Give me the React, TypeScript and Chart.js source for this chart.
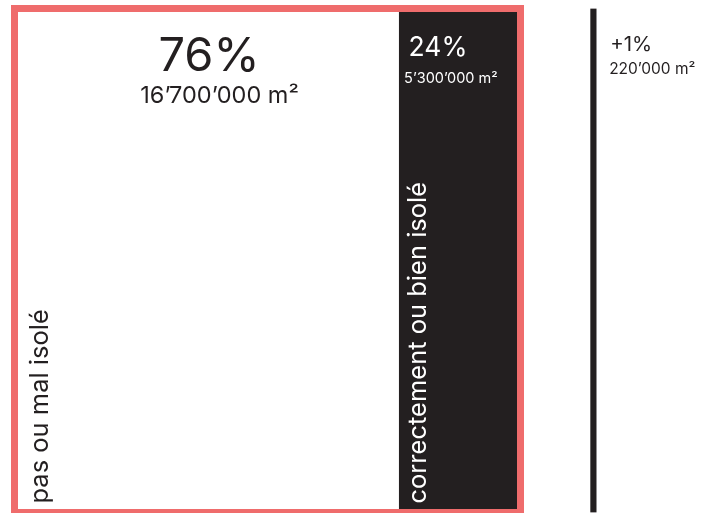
import React, { useEffect, useRef } from "react";
import { Chart, registerables } from "chart.js";

Chart.register(...registerables);

// ---- data (millions of m²) ----
const categories = ["surface"];
const seriesNames = ["pas ou mal isolé", "correctement ou bien isolé", "écart", "ajout"];
const poorlyInsulated = [16.7];
const wellInsulated = [5.3];
const spacer = [3.05];
const addition = [0.24];
const percentLabels = ["76%", "24%", "+1%"];
const areaLabels = ["16’700’000 m²", "5’300’000 m²", "220’000 m²"];
const axisMax = 30;

const DARK = "#231f20";
const SALMON = "#ef6c6c";
const FONT = "Inter, 'Noto Sans', sans-serif";

const annotPlugin = {
  id: "annot",
  afterDatasetsDraw(chart: any) {
    const ctx = chart.ctx as CanvasRenderingContext2D;
    const w = chart.getDatasetMeta(0).data[0] as any;
    const d = chart.getDatasetMeta(1).data[0] as any;
    const t = chart.getDatasetMeta(3).data[0] as any;
    const top = w.y - w.height / 2;
    const bottom = w.y + w.height / 2;
    ctx.save();
    // frame around the main area
    ctx.strokeStyle = SALMON;
    ctx.lineWidth = 7;
    ctx.strokeRect(w.base, top, d.x - w.base, bottom - top);

    // white area labels
    const cx = (w.base + w.x) / 2;
    ctx.fillStyle = DARK;
    ctx.textAlign = "center";
    ctx.textBaseline = "alphabetic";
    ctx.font = `47px ${FONT}`;
    ctx.fillText(percentLabels[0], cx + 2.5, top + 62.5);
    ctx.font = `23.5px ${FONT}`;
    ctx.fillText(areaLabels[0], cx + 13, top + 94.5);

    // dark area labels
    ctx.fillStyle = "#ffffff";
    ctx.textAlign = "left";
    ctx.font = `26.5px ${FONT}`;
    ctx.fillText(percentLabels[1], d.base + 10, top + 47);
    ctx.font = `14.5px ${FONT}`;
    ctx.fillText(areaLabels[1], d.base + 5.5, top + 74);

    // addition labels
    ctx.fillStyle = DARK;
    ctx.font = `20.5px ${FONT}`;
    ctx.fillText(percentLabels[2], t.x + 14, top + 42);
    ctx.font = `15.5px ${FONT}`;
    ctx.fillText(areaLabels[2], t.x + 13, top + 65);

    // rotated category names
    const rot: [number, string, string][] = [
      [w.base + 33, seriesNames[0], DARK],
      [d.base + 27, seriesNames[1], "#ffffff"],
    ];
    ctx.font = `25.5px ${FONT}`;
    for (const [x, label, color] of rot) {
      ctx.save();
      ctx.translate(x, bottom - 9);
      ctx.rotate(-Math.PI / 2);
      ctx.fillStyle = color;
      ctx.textAlign = "left";
      ctx.fillText(label, 0, 0);
      ctx.restore();
    }
    ctx.restore();
  },
};

export default function App() {
  const ref = useRef<HTMLCanvasElement | null>(null);
  useEffect(() => {
    if (!ref.current) return;
    const common = { categoryPercentage: 1, barPercentage: 1, borderWidth: 0 };
    const chart = new Chart(ref.current, {
      type: "bar",
      data: {
        labels: categories,
        datasets: [
          { label: seriesNames[0], data: poorlyInsulated, backgroundColor: "#ffffff", ...common },
          { label: seriesNames[1], data: wellInsulated, backgroundColor: DARK, ...common },
          { label: seriesNames[2], data: spacer, backgroundColor: "rgba(0,0,0,0)", ...common },
          { label: seriesNames[3], data: addition, backgroundColor: DARK, ...common },
        ],
      },
      options: {
        indexAxis: "y",
        responsive: false,
        animation: false,
        layout: { padding: { left: 14.5, right: 5.5, top: 8.5, bottom: 0.5 } },
        plugins: { legend: { display: false }, tooltip: { enabled: false } },
        scales: {
          x: { type: "linear", stacked: true, min: 0, max: axisMax, display: false },
          y: { stacked: true, display: false },
        },
      },
      plugins: [annotPlugin],
    });
    return () => chart.destroy();
  }, []);
  return (
    <div style={{ position: "absolute", left: 0, top: 0, width: 710, height: 513, background: "#fff" }}>
      <canvas ref={ref} width={710} height={513} style={{ display: "block" }} />
    </div>
  );
}
